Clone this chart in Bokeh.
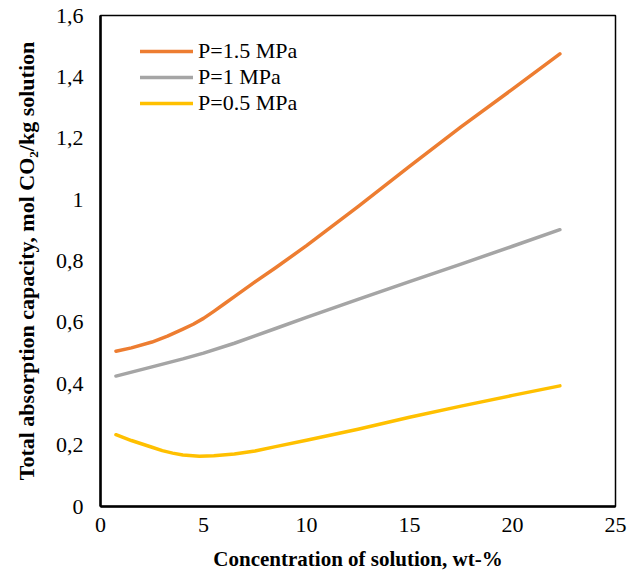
from bokeh.plotting import figure
from bokeh.models import Range1d, FixedTicker, CustomJSTickFormatter, Legend, LegendItem
from bokeh.embed import file_html
from bokeh.resources import INLINE

# ---- data ----
x_p15 = [0.75, 1.5, 2.5, 3.25, 4.0, 4.5, 5.0, 5.5, 6.0, 6.5, 7.5, 8.5, 10.0, 12.5, 15.0, 17.5, 20.0, 22.3]
y_p15 = [0.506, 0.517, 0.536, 0.555, 0.578, 0.594, 0.613, 0.636, 0.660, 0.684, 0.732, 0.778, 0.850, 0.977, 1.108, 1.237, 1.360, 1.475]

x_p10 = [0.75, 2.5, 4.0, 5.0, 6.5, 7.5, 8.5, 10.0, 12.5, 15.0, 17.5, 20.0, 22.3]
y_p10 = [0.425, 0.455, 0.481, 0.500, 0.532, 0.556, 0.580, 0.616, 0.675, 0.733, 0.790, 0.848, 0.902]

x_p05 = [0.75, 1.5, 2.5, 3.0, 3.5, 4.0, 4.8, 5.5, 6.5, 7.5, 8.5, 10.0, 12.5, 15.0, 17.5, 20.0, 22.3]
y_p05 = [0.234, 0.215, 0.193, 0.182, 0.174, 0.168, 0.164, 0.165, 0.171, 0.181, 0.195, 0.216, 0.252, 0.291, 0.327, 0.362, 0.393]

series_names = ["P=1.5 MPa", "P=1 MPa", "P=0.5 MPa"]
series_colors = ["#ED7D31", "#A5A5A5", "#FFC000"]

x_ticks = [0, 5, 10, 15, 20, 25]
y_ticks = [0, 0.2, 0.4, 0.6, 0.8, 1.0, 1.2, 1.4, 1.6]
y_tick_labels = ["0", "0,2", "0,4", "0,6", "0,8", "1", "1,2", "1,4", "1,6"]

x_title = "Concentration of solution, wt-%"
y_title = "Total absorption capacity, mol CO\u2082/kg solution"

FONT = "Liberation Serif"

p = figure(width=627, height=578, output_backend="svg", toolbar_location=None,
           x_range=Range1d(0, 25), y_range=Range1d(0, 1.6),
           min_border_left=100, min_border_right=12, min_border_top=15, min_border_bottom=72)
p.background_fill_color = "white"
p.border_fill_color = "white"
p.outline_line_color = "black"
p.outline_line_width = 1.5
p.xgrid.visible = False
p.ygrid.visible = False

renderers = []
for xs, ys, c in zip([x_p15, x_p10, x_p05], [y_p15, y_p10, y_p05], series_colors):
    r = p.line(xs, ys, line_color=c, line_width=3.5, line_cap="round", line_join="round")
    renderers.append(r)

for ax in (p.xaxis[0], p.yaxis[0]):
    ax.axis_line_color = "black"
    ax.axis_line_width = 2.5
    ax.major_tick_in = 0
    ax.major_tick_out = 0
    ax.minor_tick_in = 0
    ax.minor_tick_out = 0
    ax.major_label_text_font = FONT
    ax.major_label_text_font_size = "22px"
    ax.major_label_text_color = "black"
    ax.axis_label_text_font = FONT
    ax.axis_label_text_font_style = "bold"
    ax.axis_label_text_color = "black"

p.xaxis[0].ticker = FixedTicker(ticks=x_ticks)
p.xaxis[0].major_label_standoff = 11
p.xaxis[0].axis_label = x_title
p.xaxis[0].axis_label_text_font_size = "21px"
p.xaxis[0].axis_label_standoff = 12

p.yaxis[0].ticker = FixedTicker(ticks=y_ticks)
p.yaxis[0].formatter = CustomJSTickFormatter(
    args=dict(tick_vals=y_ticks, tick_texts=y_tick_labels),
    code="const i = tick_vals.findIndex(t => Math.abs(t - tick) < 1e-9); return i >= 0 ? tick_texts[i] : '';")
p.yaxis[0].major_label_standoff = 17
p.yaxis[0].axis_label = y_title
p.yaxis[0].axis_label_text_font_size = "22px"
p.yaxis[0].axis_label_standoff = 14

legend = Legend(items=[LegendItem(label=n, renderers=[r]) for n, r in zip(series_names, renderers)],
                location=(40, 390))
legend.background_fill_alpha = 0
legend.border_line_color = None
legend.padding = 0
legend.margin = 0
legend.spacing = 0
legend.glyph_width = 53
legend.glyph_height = 24
legend.label_height = 24
legend.label_standoff = 5
legend.label_text_font = FONT
legend.label_text_font_size = "22px"
legend.label_text_color = "black"
p.add_layout(legend, "center")

open("out.html", "w").write(file_html(p, INLINE))
